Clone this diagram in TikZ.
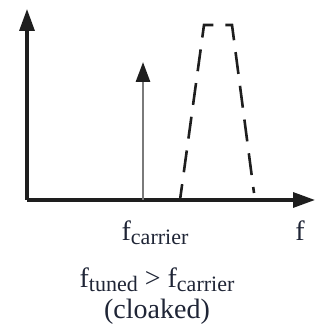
\documentclass[tikz,border=0pt]{standalone}
\usepackage{fontspec}
\setmainfont{Liberation Serif}
\usetikzlibrary{arrows.meta, positioning}
\definecolor{inkblk}{HTML}{1E1E1E}
\definecolor{inktxt}{HTML}{1F2536}
\definecolor{carrgray}{HTML}{7A7A7A}
\newcommand{\lowsub}[1]{\raisebox{-0.3ex}{\fontsize{11}{12}\selectfont #1}}

\begin{document}
\begin{tikzpicture}[
  x=0.5pt, y=0.5pt,
  >={Triangle[length=11pt, width=7.5pt]},
  lbl/.style={font=\fontsize{14}{16}\selectfont, text=inktxt, inner sep=0pt},
]
\useasboundingbox (-27,-124) rectangle (296,200);

% === Axes ===
\coordinate (O) at (0,0);
\coordinate (ytip) at (0,191);
\coordinate (xtip) at (288,0);
\draw[->, line width=1.6pt, inkblk] (O) -- (ytip);
\draw[->, line width=1.6pt, inkblk] (O) -- (xtip);

% === Carrier line ===
\coordinate (fc) at (116,0);
\coordinate (fctip) at (116,138);
\draw[carrgray, line width=1.4pt, -{Triangle[length=10pt, width=7pt, color=inkblk]}]
  (fc) -- (fctip);

% === Tuned passband (dashed) ===
\coordinate (bl) at (153,0);
\coordinate (tl) at (177,175);
\coordinate (tr) at (205,175);
\coordinate (br) at (227,7);
\draw[inkblk, line width=1.3pt, dash pattern=on 11pt off 6pt, dash phase=3pt]
  (bl) -- (tl) -- (tr) -- (br);

% === Labels ===
\node[lbl] (carrlbl) at (128,-33) {f\lowsub{carrier}};
\node[lbl] (flbl) at (273,-31) {f};
\node[lbl] (cmplbl) at (130,-80) {f\lowsub{tuned} > f\lowsub{carrier}};
\node[lbl, below=3pt of cmplbl] (cloaklbl) {(cloaked)};

\end{tikzpicture}
\end{document}
